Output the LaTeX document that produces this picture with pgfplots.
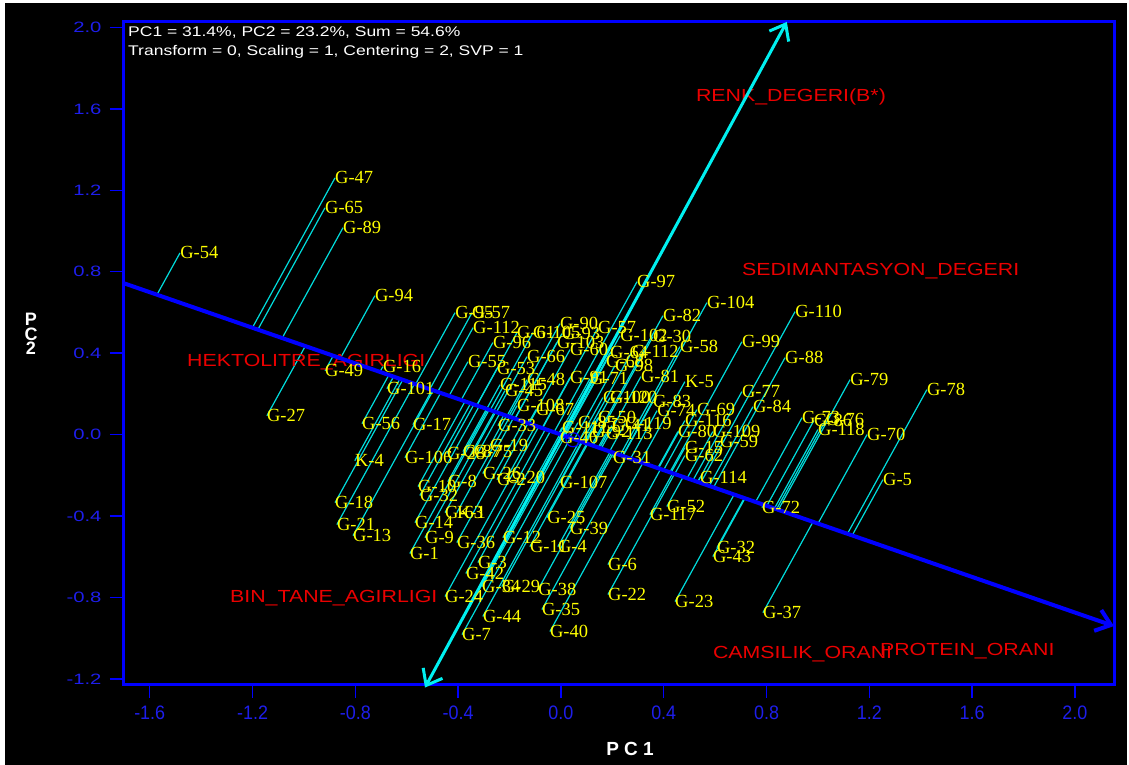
\documentclass[border=0pt]{standalone}
\usepackage{fontspec}
\setmainfont{Liberation Serif}
\newfontfamily\hdrfam[FakeStretch=1.25]{Liberation Sans}
\newfontfamily\varfam[FakeStretch=1.22]{Liberation Sans}
\newfontfamily\ytfam[FakeStretch=1.35]{Liberation Sans}
\newfontfamily\xtfam[FakeStretch=0.92]{Liberation Sans}
\newfontfamily\lblfam{Liberation Serif}
\newfontfamily\pcfam{Liberation Sans}
\usepackage{pgfplots}
\pgfplotsset{compat=1.18}
\usepackage{pgfplotstable}
\usetikzlibrary{arrows.meta}
\definecolor{pblue}{RGB}{0,0,255}
\definecolor{tickblue}{RGB}{30,30,235}
\definecolor{cyn}{RGB}{0,240,240}
\definecolor{thincyan}{RGB}{0,220,220}
\definecolor{ylw}{RGB}{255,255,0}
\definecolor{rd}{RGB}{235,0,0}
\newcommand{\lblfont}{\lblfam\fontsize{18.5}{20}\selectfont}
\newcommand{\varfont}{\varfam\fontsize{17.5}{19}\selectfont}
\newcommand{\hdrfont}{\hdrfam\fontsize{14}{16}\selectfont}

\pgfplotstableread{
x y lab
-1.482 0.893 G-54
-0.879 1.261 G-47
-0.918 1.114 G-65
-0.848 1.016 G-89
-0.724 0.682 G-94
-0.918 0.314 G-49
-0.693 0.334 G-16
-0.677 0.226 G-101
-1.144 0.093 G-27
-0.774 0.054 G-56
-0.576 0.049 G-17
-0.802 -0.128 K-4
-0.607 -0.113 G-106
-0.879 -0.334 G-18
-0.872 -0.442 G-21
-0.809 -0.496 G-13
-0.588 -0.584 G-1
-0.568 -0.432 G-14
-0.529 -0.506 G-9
-0.556 -0.255 G-10
-0.549 -0.299 G-32
-0.440 -0.231 G-8
-0.451 -0.383 G-63
-0.405 -0.383 K-1
-0.405 -0.530 G-36
-0.226 -0.506 G-12
-0.121 -0.550 G-11
-0.012 -0.550 G-4
-0.054 -0.407 G-25
0.035 -0.461 G-39
-0.323 -0.628 G-3
-0.370 -0.682 G-42
-0.307 -0.746 G-34
-0.230 -0.746 G-29
-0.089 -0.761 G-38
-0.451 -0.795 G-24
-0.304 -0.893 G-44
-0.074 -0.859 G-35
-0.385 -0.982 G-7
-0.043 -0.967 G-40
0.183 -0.638 G-6
0.183 -0.785 G-22
-0.004 -0.236 G-107
0.202 -0.113 G-31
-0.276 -0.054 G-19
-0.444 -0.093 G-28
-0.381 -0.083 G-87
-0.339 -0.083 G-75
-0.304 -0.191 G-26
-0.249 -0.221 G-2
-0.210 -0.211 G-20
-0.171 0.142 G-108
-0.097 0.123 G-67
-0.245 0.044 G-33
0.004 0.034 G-111
0.066 0.059 G-85
0.144 0.083 G-50
0.198 0.044 G-41
0.249 0.054 G-119
0.121 0.015 G-92
-0.004 -0.015 G-46
0.175 0.005 G-113
-0.412 0.599 G-95
-0.346 0.599 G-57
-0.342 0.525 G-112
-0.171 0.501 G-61
-0.109 0.501 G-105
-0.004 0.545 G-90
0.004 0.496 G-93
0.144 0.525 G-57
0.230 0.486 G-102
-0.016 0.452 G-103
0.035 0.417 G-60
0.358 0.481 G-30
0.191 0.402 G-64
0.276 0.407 G-112
0.210 0.339 G-98
0.175 0.358 G-68
0.311 0.285 G-81
-0.132 0.383 G-66
-0.265 0.452 G-96
-0.362 0.358 G-55
-0.249 0.324 G-53
-0.132 0.270 G-48
0.035 0.280 G-91
0.113 0.275 G-71
-0.237 0.245 G-115
-0.218 0.216 G-45
0.163 0.182 G-100
0.191 0.182 G-120
0.296 0.751 G-97
0.568 0.648 G-104
0.397 0.584 G-82
0.911 0.604 G-110
0.463 0.432 G-58
0.704 0.456 G-99
0.872 0.378 G-88
0.482 0.260 K-5
1.125 0.270 G-79
1.424 0.221 G-78
0.704 0.211 G-77
0.747 0.137 G-84
0.358 0.162 G-83
0.374 0.118 G-74
0.529 0.123 G-69
0.482 0.069 G-116
0.455 0.015 G-80
0.591 0.015 G-109
0.619 -0.034 G-59
0.482 -0.064 G-15
0.482 -0.103 G-62
0.541 -0.211 G-114
0.938 0.083 G-73
0.984 0.069 G-86
1.031 0.074 G-76
1.000 0.025 G-118
1.191 0.000 G-70
1.253 -0.221 G-5
0.782 -0.358 G-72
0.412 -0.353 G-52
0.346 -0.393 G-117
0.607 -0.555 G-32
0.591 -0.599 G-43
0.444 -0.820 G-23
0.786 -0.874 G-37
}\pts

\begin{document}
\begin{tikzpicture}[x=1pt,y=1pt]
\fill[white] (0,0) rectangle (1129,765);
\fill[black] (5,0) rectangle (1127,762);
\begin{axis}[
  at={(123pt,80.5pt)}, anchor=south west,
  scale only axis, width=991pt, height=663pt,
  xmin=-1.704, xmax=2.152, ymin=-1.227, ymax=2.029,
  clip=false,
  axis line style={pblue, line width=3pt},
  xtick={-1.6,-1.2,-0.8,-0.4,0,0.4,0.8,1.2,1.6,2.0},
  ytick={-1.2,-0.8,-0.4,0,0.4,0.8,1.2,1.6,2.0},
  tick align=outside, major tick length=13pt,
  xtick pos=left, ytick pos=left,
  tick style={pblue, line width=1.5pt},
  /pgf/number format/.cd, fixed, fixed zerofill, precision=1, assume math mode=true,
  /pgfplots/.cd,
  xticklabel style={font=\xtfam\fontsize{19.5}{21}\selectfont, text=tickblue, yshift=-5pt},
  yticklabel style={font=\ytfam\fontsize{15}{17}\selectfont, text=tickblue, xshift=-5pt},
]
% projection lines
\addplot[thincyan, line width=1.2pt,
  quiver={u={(\thisrow{x}-0.437*\thisrow{y})/1.190969-\thisrow{x}},
          v={-0.437*(\thisrow{x}-0.437*\thisrow{y})/1.190969-\thisrow{y}}}]
  table[x=x,y=y] {\pts};
% variable labels
\node[anchor=west, inner sep=0pt, text=rd, font=\varfont] at (axis cs:0.525,1.659) {RENK\_DEGERI(B*)};
\node[anchor=west, inner sep=0pt, text=rd, font=\varfont] at (axis cs:0.704,0.805) {SEDIMANTASYON\_DEGERI};
\node[anchor=west, inner sep=0pt, text=rd, font=\varfont] at (axis cs:-1.455,0.358) {HEKTOLITRE\_AGIRLIGI};
\node[anchor=west, inner sep=0pt, text=rd, font=\varfont] at (axis cs:-1.288,-0.805) {BIN\_TANE\_AGIRLIGI};
\node[anchor=west, inner sep=0pt, text=rd, font=\varfont] at (axis cs:0.591,-1.080) {CAMSILIK\_ORANI};
\node[anchor=west, inner sep=0pt, text=rd, font=\varfont] at (axis cs:1.241,-1.065) {PROTEIN\_ORANI};
% main blue axis
\addplot[pblue, line width=4pt, -{Straight Barb[length=14pt,width=22pt]}]
  coordinates {(-1.704,0.745) (2.152,-0.940)};
% cyan double arrow
\addplot[cyn, line width=3pt, {Straight Barb[length=14pt,width=22pt]}-{Straight Barb[length=14pt,width=22pt]}]
  coordinates {(-0.529,-1.242) (0.879,2.027)};
% centre circle
\addplot[pblue, line width=1.2pt, only marks, mark=o, mark size=7pt] coordinates {(0.047,-0.025)};
% point labels
\addplot[only marks, mark=none, nodes near coords, point meta=explicit symbolic,
  nodes near coords style={anchor=west, inner sep=0pt, text=ylw, font=\lblfont}]
  table[x=x,y=y,meta=lab] {\pts};
\end{axis}
\node[anchor=west, inner sep=0pt, text=white, font=\hdrfont] at (128,732) {PC1 = 31.4\%, PC2 = 23.2\%, Sum = 54.6\%};
\node[anchor=west, inner sep=0pt, text=white, font=\hdrfont] at (128,713) {Transform = 0, Scaling = 1, Centering = 2, SVP = 1};
\node[inner sep=0pt, text=white, font=\pcfam\bfseries\fontsize{19}{21}\selectfont] at (630,16) {P C 1};
\node[inner sep=0pt, text=white, align=center, font=\pcfam\bfseries\fontsize{18}{14.5}\selectfont] at (31,431) {P\\C\\2};
\end{tikzpicture}
\end{document}
